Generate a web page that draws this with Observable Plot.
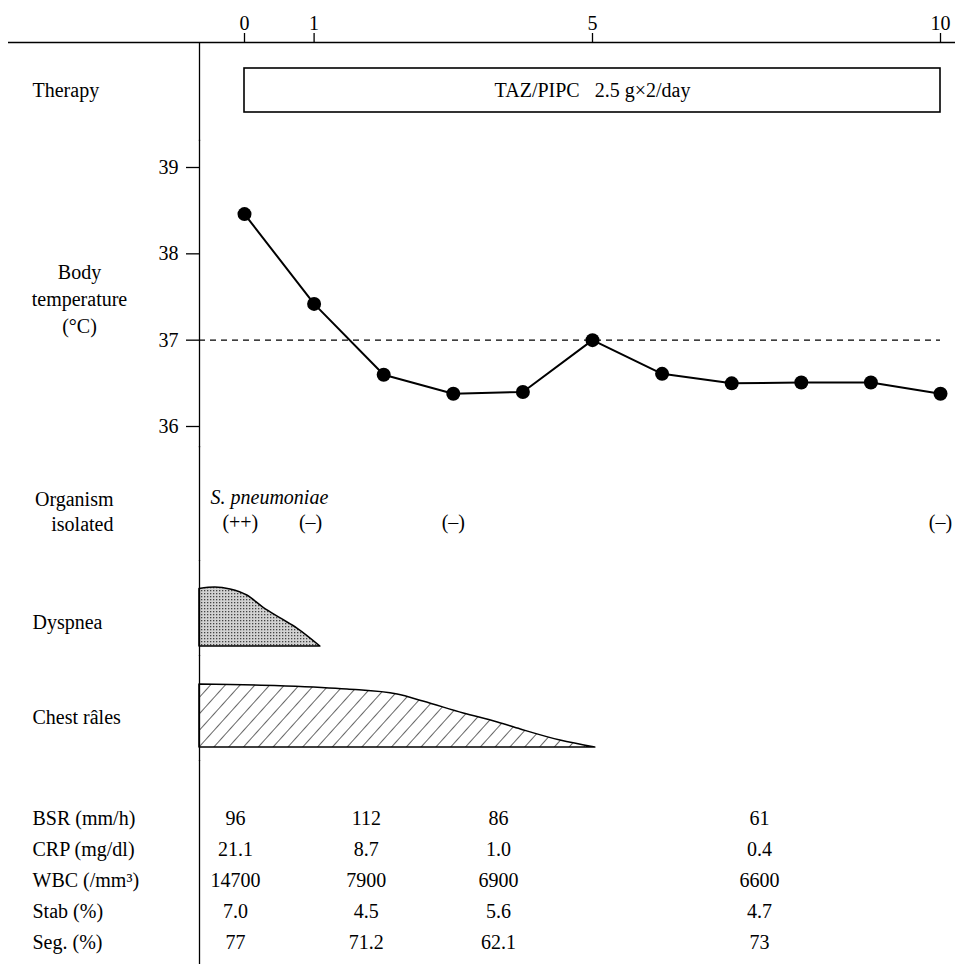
<!DOCTYPE html>
<html><head><meta charset="utf-8">
<script src="https://cdn.jsdelivr.net/npm/d3@7"></script>
<script src="https://cdn.jsdelivr.net/npm/@observablehq/plot@0.6"></script>
<style>
body{margin:0;background:#fff;}
#chart{width:963px;background:#fff;}
#chart svg{display:block;}
</style></head><body><div id="chart"></div>
<script>
// ---- data ----
const axisTicks = [0, 1, 5, 10];
const therapyRow = "Therapy";
const therapyStart = 0, therapyEnd = 10;
const therapyLabel = "TAZ/PIPC\u00a0\u00a0 2.5 g×2/day";

const tempDays   = [0, 1, 2, 3, 4, 5, 6, 7, 8, 9, 10];
const tempValues = [38.46, 37.42, 36.6, 36.38, 36.4, 37.0, 36.61, 36.5, 36.51, 36.51, 36.38];
const tempTicks  = [36, 37, 38, 39];
const normalTemp = 37;

const organismName   = "S. pneumoniae";
const cultureDays    = [-0.06, 0.95, 3, 10];
const cultureResults = ["(++)", "(–)", "(–)", "(–)"];

const dyspneaDays  = [-0.647, -0.42, -0.2, 0.04, 0.27, 0.52, 0.76, 1.09];
const dyspneaLevel = [0.975, 1.0, 0.966, 0.864, 0.66, 0.475, 0.305, 0];

const ralesDays  = [-0.647, 0.52, 1.48, 2.2, 2.57, 3.15, 3.64, 3.97, 4.54, 5.04];
const ralesLevel = [1.0, 0.973, 0.921, 0.841, 0.73, 0.54, 0.397, 0.286, 0.11, 0];

const labNames      = ["BSR (mm/h)", "CRP (mg/dl)", "WBC (/mm³)", "Stab (%)", "Seg. (%)"];
const labColumnDays = [-0.13, 1.75, 3.65, 7.4];
const bsrValues  = ["96", "112", "86", "61"];
const crpValues  = ["21.1", "8.7", "1.0", "0.4"];
const wbcValues  = ["14700", "7900", "6900", "6600"];
const stabValues = ["7.0", "4.5", "5.6", "4.7"];
const segValues  = ["77", "71.2", "62.1", "73"];

// ---- derived tables ----
const temps = tempDays.map((d, i) => ({day: d, temp: tempValues[i]}));
const cultures = cultureDays.map((d, i) => ({day: d, result: cultureResults[i]}));
const dyspnea = dyspneaDays.map((d, i) => ({day: d, level: dyspneaLevel[i]}));
const rales = ralesDays.map((d, i) => ({day: d, level: ralesLevel[i]}));
const labRows = [bsrValues, crpValues, wbcValues, stabValues, segValues];
const labCells = labRows.flatMap((vals, r) => vals.map((v, c) => ({name: labNames[r], day: labColumnDays[c], value: v})));
const therapy = [{row: therapyRow, start: therapyStart, end: therapyEnd, label: therapyLabel}];

// ---- layout ----
const W = 963;
const FONT = "Liberation Serif";
const X = {domain: [0, 10], range: [244, 940], axis: null};
const style = {fontFamily: FONT, fontSize: "20px", background: "white", color: "black", overflow: "visible"};
const common = {width: W, marginLeft: 199, marginRight: 23, marginTop: 0, marginBottom: 0, style};
const NS = "http://www.w3.org/2000/svg";

function defsMark() {
  const g = document.createElementNS(NS, "g");
  const defs = document.createElementNS(NS, "defs");
  const p1 = document.createElementNS(NS, "pattern");
  p1.setAttribute("id", "stipple"); p1.setAttribute("patternUnits", "userSpaceOnUse");
  p1.setAttribute("width", "3"); p1.setAttribute("height", "3");
  const bg = document.createElementNS(NS, "rect");
  bg.setAttribute("width", "3"); bg.setAttribute("height", "3"); bg.setAttribute("fill", "#d2d2d2");
  const dot = document.createElementNS(NS, "rect");
  dot.setAttribute("width", "1.3"); dot.setAttribute("height", "1.3"); dot.setAttribute("fill", "#444");
  p1.append(bg, dot);
  const p2 = document.createElementNS(NS, "pattern");
  p2.setAttribute("id", "hatch"); p2.setAttribute("patternUnits", "userSpaceOnUse");
  p2.setAttribute("width", "11"); p2.setAttribute("height", "11");
  p2.setAttribute("patternTransform", "rotate(42)");
  const ln = document.createElementNS(NS, "line");
  ln.setAttribute("x1", "0"); ln.setAttribute("y1", "0"); ln.setAttribute("x2", "0"); ln.setAttribute("y2", "11");
  ln.setAttribute("stroke", "black"); ln.setAttribute("stroke-width", "1.2");
  p2.append(ln);
  defs.append(p1, p2);
  g.append(defs);
  return g;
}

const chart = document.getElementById("chart");

// Panel A: top day axis
chart.append(Plot.plot({
  width: W, height: 43, marginTop: 42, marginBottom: 0, marginLeft: 8, marginRight: 8, style,
  x: X,
  y: {domain: [0, 1], range: [42, 0], axis: null},
  marks: [
    Plot.ruleY([0], {strokeWidth: 1.3}),
    Plot.axisX(axisTicks, {anchor: "top", tickSize: 10, tickPadding: 3, fontSize: 20, strokeWidth: 1.3}),
    defsMark
  ]
}));

// Panel B: therapy
chart.append(Plot.plot({
  ...common, height: 97,
  x: X,
  y: {type: "band", domain: [therapyRow], range: [25, 69], padding: 0, axis: null},
  marks: [
    Plot.frame({anchor: "left", strokeWidth: 1.3}),
    Plot.barX(therapy, {x1: "start", x2: "end", y: "row", fill: "white", stroke: "black", strokeWidth: 1.6}),
    Plot.text(therapy, {x: d => (d.start + d.end) / 2, y: "row", text: "label", fontSize: 20}),
    Plot.text(therapy, {y: "row", text: "row", frameAnchor: "left", dx: -167, textAnchor: "start", fontSize: 20})
  ]
}));

// Panel C: body temperature
chart.append(Plot.plot({
  ...common, height: 306,
  x: X,
  y: {domain: [36, 39], range: [286, 27], axis: null},
  marks: [
    Plot.frame({anchor: "left", strokeWidth: 1.3}),
    Plot.axisY(tempTicks, {anchor: "left", tickSize: 13, tickPadding: 8, tickFormat: "d", fontSize: 20, label: null, strokeWidth: 1.3}),
    Plot.ruleY([normalTemp], {strokeDasharray: "6,5", strokeWidth: 1.2}),
    Plot.line(temps, {x: "day", y: "temp", strokeWidth: 2}),
    Plot.dot(temps, {x: "day", y: "temp", r: 7, fill: "black", stroke: null}),
    Plot.text(["Body\ntemperature\n(°C)"], {frameAnchor: "top-left", dx: -120, dy: 157, textAnchor: "middle", lineAnchor: "middle", lineHeight: 1.33, fontSize: 20})
  ]
}));

// Panel D: organism isolated
chart.append(Plot.plot({
  ...common, height: 114,
  x: X,
  y: {type: "point", domain: ["name", "result"], range: [51, 76], padding: 0, axis: null},
  marks: [
    Plot.frame({anchor: "left", strokeWidth: 1.3}),
    Plot.text(["Organism\nisolated"], {frameAnchor: "top-left", dx: -86, dy: 63.5, textAnchor: "end", lineAnchor: "middle", lineHeight: 1.25, fontSize: 20}),
    Plot.text([organismName], {y: () => "name", frameAnchor: "left", dx: 11, textAnchor: "start", fontStyle: "italic", fontSize: 20}),
    Plot.text(cultures, {x: "day", y: () => "result", text: "result", fontSize: 20})
  ]
}));

// Panel E: dyspnea
chart.append(Plot.plot({
  ...common, height: 95,
  x: X,
  y: {domain: [0, 1], range: [86, 27], axis: null},
  marks: [
    Plot.areaY(dyspnea, {x: "day", y: "level", curve: "monotone-x", fill: "url(#stipple)", stroke: "black", strokeWidth: 1.5}),
    Plot.frame({anchor: "left", strokeWidth: 1.3}),
    Plot.text(["Dyspnea"], {frameAnchor: "top-left", dx: -167, dy: 62, textAnchor: "start", lineAnchor: "middle", fontSize: 20})
  ]
}));

// Panel F: chest rales
chart.append(Plot.plot({
  ...common, height: 105,
  x: X,
  y: {domain: [0, 1], range: [92, 29], axis: null},
  marks: [
    Plot.areaY(rales, {x: "day", y: "level", curve: "monotone-x", fill: "url(#hatch)", stroke: "black", strokeWidth: 1.5}),
    Plot.frame({anchor: "left", strokeWidth: 1.3}),
    Plot.text(["Chest râles"], {frameAnchor: "top-left", dx: -167, dy: 62, textAnchor: "start", lineAnchor: "middle", fontSize: 20})
  ]
}));

// Panel G: laboratory table
chart.append(Plot.plot({
  ...common, height: 204,
  x: X,
  y: {type: "point", domain: labNames, range: [57, 183], padding: 0, axis: null},
  marks: [
    Plot.frame({anchor: "left", strokeWidth: 1.3}),
    Plot.text(labNames, {y: d => d, frameAnchor: "left", dx: -167, textAnchor: "start", fontSize: 20}),
    Plot.text(labCells, {x: "day", y: "name", text: "value", fontSize: 20})
  ]
}));
</script>
</body></html>
